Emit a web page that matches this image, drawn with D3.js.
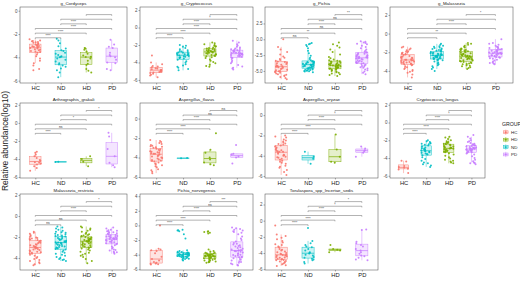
<!DOCTYPE html>
<html>
<head>
<meta charset="utf-8">
<script src="https://cdn.jsdelivr.net/npm/d3@7"></script>
<style>
  body { margin: 0; background: #fff; }
  svg { display: block; font-family: "Liberation Sans", Arial, sans-serif; }
</style>
</head>
<body>
<svg id="chart" width="520" height="281"></svg>
<script>
// ---- data ----
const groups = ["HC", "ND", "HD", "PD"];
const legendGroups = ["HC", "HD", "ND", "PD"];
const groupColors = {HC: "#F8766D", HD: "#7CAE00", ND: "#00BFC4", PD: "#C77CFF"};

const taxa = ["g_Cordyceps", "g_Cryptococcus", "g_Pichia", "g_Malassezia",
  "Arthrographis_grakali", "Aspergillus_flavus", "Aspergillus_oryzae", "Cryptococcus_longus",
  "Malassezia_restricta", "Pichia_norvegensis", "Torulaspora_spp_Incertae_sedis"];

const yTicks = [[0, -2, -4, -6], [2, 0, -2, -4, -6], [2.5, 0, -2.5, -5], [2, 0, -2, -4],
  [2, 0, -2, -4, -6], [0, -2, -4, -6], [0, -2, -4, -6], [2, 0, -2, -4, -6],
  [2, 0, -2, -4], [4, 2, 0, -2, -4, -6], [2, 0, -2, -4, -6]];
const yDomains = [[-6.2, 0.32], [-6.35, 2.35], [-6.9, 5.1], [-5.3, 2.85],
  [-6.1, 2.2], [-6.1, 1.6], [-6.2, 1.2], [-6.25, 2.2],
  [-5.15, 2.1], [-6.1, 4.3], [-6.1, 3.3]];

const comparisons = [["HC", "ND"], ["HC", "HD"], ["HC", "PD"], ["ND", "HD"], ["ND", "PD"], ["HD", "PD"]];
const sigLabels = [
  ["****", "****", "****", "****", "", ""],
  ["****", "****", "****", "****", "*", ""],
  ["ns", "**", "ns", "****", "ns", "**"],
  ["", "**", "", "****", "", "*"],
  ["****", "ns", "", "*", "", "*"],
  ["****", "****", "", "****", "ns", "ns"],
  ["****", "****", "", "****", "*", ""],
  ["****", "****", "", "****", "*", ""],
  ["ns", "ns", "", "****", "", "*"],
  ["****", "****", "", "****", "ns", "***"],
  ["****", "****", "", "****", "*", "*"]
];

// values (log10 relative abundance) per taxon and group
const cordycepsHC = [-2.45,-2.55,-2.6,-2.62,-2.68,-2.7,-2.75,-2.8,-2.85,-2.9,-2.95,-3.0,-3.02,-3.05,-3.1,-3.12,-3.15,-3.2,-3.25,-3.3,-3.35,-3.4,-3.45,-3.5,-3.55,-3.6,-3.75,-3.9,-4.1,-4.3,-4.5,-4.7,-5.0,-5.1];
const cordycepsND = [-2.4,-2.55,-2.8,-3.05,-3.25,-3.38,-3.45,-3.6,-3.7,-3.8,-3.9,-3.95,-4.0,-4.1,-4.2,-4.35,-4.5,-4.62,-4.7,-4.8,-4.95,-5.1,-5.3,-5.7];
const cordycepsHD = [-3.2,-3.25,-3.35,-3.5,-3.7,-3.85,-3.95,-3.98,-4.1,-4.3,-4.55,-4.65,-5.0,-5.15,-5.3];
const cordycepsPD = [-2.5,-2.9,-3.1,-3.2,-3.6,-3.8,-3.9,-4.0,-4.2,-4.45,-4.5,-5.0,-5.1];

const cryptoHC = [-3.2,-4.0,-4.2,-4.4,-4.45,-4.55,-4.65,-4.7,-4.78,-4.85,-4.88,-4.92,-5.0,-5.05,-5.1,-5.15,-5.2,-5.3,-5.4,-5.5,-5.7];
const cryptoND = [-2.0,-2.1,-2.2,-2.35,-2.5,-2.6,-2.7,-2.75,-2.8,-2.85,-2.9,-2.95,-3.0,-3.05,-3.1,-3.12,-3.15,-3.2,-3.25,-3.3,-3.35,-3.4,-3.45,-3.5,-3.55,-3.7,-3.85,-4.0,-4.2,-4.35,-4.5,-4.6,-4.75,-4.9];
const cryptoHD = [-1.7,-1.8,-1.9,-2.0,-2.1,-2.15,-2.2,-2.3,-2.35,-2.4,-2.45,-2.5,-2.55,-2.6,-2.62,-2.65,-2.7,-2.72,-2.75,-2.78,-2.8,-2.85,-2.9,-2.95,-3.0,-3.05,-3.1,-3.15,-3.2,-3.25,-3.3,-3.4,-3.5,-3.65,-3.8,-3.95,-4.1,-4.25,-4.4,-4.5];
const cryptoPD = [-1.5,-1.7,-1.9,-2.05,-2.2,-2.3,-2.4,-2.45,-2.5,-2.55,-2.6,-2.65,-2.7,-2.75,-2.8,-2.85,-2.9,-2.92,-2.95,-2.98,-3.0,-3.05,-3.1,-3.12,-3.15,-3.2,-3.25,-3.3,-3.35,-3.4,-3.5,-3.6,-3.8,-3.95,-4.1,-4.3,-4.45,-4.6,-4.7,-4.8];

const pichiaHC = [0.0,-1.2,-1.6,-2.0,-2.4,-2.7,-2.9,-3.1,-3.25,-3.4,-3.5,-3.6,-3.7,-3.8,-3.9,-4.0,-4.1,-4.2,-4.25,-4.3,-4.35,-4.4,-4.5,-4.6,-4.7,-4.8,-4.9,-5.0,-5.05,-5.1,-5.2,-5.3,-5.4,-5.5,-5.6,-5.7,-5.8,-5.95,-6.1,-6.3];
const pichiaND = [-0.6,-0.7,-0.8,-0.9,-1.1,-1.4,-1.8,-2.2,-2.6,-2.9,-3.1,-3.3,-3.45,-3.5,-3.55,-3.6,-3.65,-3.7,-3.75,-3.8,-3.85,-3.9,-3.95,-4.0,-4.0,-4.05,-4.1,-4.15,-4.2,-4.25,-4.3,-4.35,-4.4,-4.45,-4.5,-4.55,-4.6,-4.65,-4.7,-4.75,-4.8,-4.85,-4.9,-4.95,-5.0,-5.05,-5.1,-5.2];
const pichiaHD = [-0.5,-0.8,-1.0,-1.3,-1.6,-2.0,-2.4,-2.8,-3.0,-3.2,-3.3,-3.4,-3.45,-3.5,-3.6,-3.7,-3.75,-3.8,-3.85,-3.9,-3.95,-4.0,-4.05,-4.1,-4.1,-4.15,-4.2,-4.25,-4.3,-4.35,-4.4,-4.45,-4.5,-4.55,-4.6,-4.65,-4.7,-4.75,-4.8,-4.9,-5.0,-5.1,-5.2,-5.3,-5.4,-5.5,-5.65,-5.8];
const pichiaPD = [-0.3,-0.4,-0.5,-0.6,-0.7,-0.8,-1.0,-1.2,-1.4,-1.6,-1.8,-1.95,-2.05,-2.1,-2.2,-2.3,-2.4,-2.45,-2.5,-2.6,-2.65,-2.7,-2.75,-2.8,-2.85,-2.9,-2.95,-3.0,-3.05,-3.1,-3.2,-3.3,-3.4,-3.5,-3.55,-3.6,-3.7,-3.75,-3.8,-3.9,-4.0,-4.1,-4.2,-4.3,-4.4,-4.5,-4.6,-4.75,-4.9,-5.1,-5.3,-5.5];

const malassHC = [-1.4,-1.5,-1.6,-1.7,-1.8,-1.9,-1.95,-2.0,-2.05,-2.1,-2.15,-2.2,-2.25,-2.3,-2.4,-2.45,-2.5,-2.55,-2.6,-2.65,-2.7,-2.75,-2.8,-2.82,-2.85,-2.9,-2.95,-3.0,-3.02,-3.05,-3.1,-3.12,-3.15,-3.2,-3.25,-3.3,-3.35,-3.4,-3.5,-3.6,-3.7,-3.8,-3.9,-4.0,-4.1,-4.2,-4.4,-4.7];
const malassND = [-1.1,-1.2,-1.3,-1.35,-1.4,-1.5,-1.55,-1.6,-1.65,-1.7,-1.75,-1.8,-1.85,-1.9,-1.95,-2.0,-2.05,-2.1,-2.12,-2.15,-2.2,-2.22,-2.25,-2.28,-2.3,-2.32,-2.35,-2.38,-2.4,-2.42,-2.45,-2.5,-2.52,-2.55,-2.6,-2.62,-2.65,-2.7,-2.72,-2.75,-2.8,-2.85,-2.9,-3.0,-3.1,-3.2,-3.3,-3.4,-3.5,-3.65,-3.8,-4.0];
const malassHD = [-1.0,-1.1,-1.2,-1.3,-1.4,-1.5,-1.6,-1.65,-1.7,-1.75,-1.8,-1.85,-1.9,-1.95,-2.0,-2.05,-2.1,-2.15,-2.2,-2.25,-2.3,-2.32,-2.35,-2.38,-2.4,-2.42,-2.45,-2.5,-2.55,-2.6,-2.62,-2.65,-2.7,-2.72,-2.75,-2.8,-2.85,-2.9,-2.95,-3.0,-3.05,-3.1,-3.15,-3.2,-3.25,-3.3,-3.4,-3.45,-3.5,-3.6,-3.7,-3.8];
const malassPD = [-0.6,-1.0,-1.1,-1.2,-1.3,-1.4,-1.45,-1.5,-1.55,-1.6,-1.65,-1.7,-1.75,-1.8,-1.85,-1.9,-1.95,-2.0,-2.02,-2.05,-2.08,-2.1,-2.12,-2.15,-2.2,-2.25,-2.3,-2.32,-2.35,-2.4,-2.42,-2.45,-2.5,-2.55,-2.6,-2.65,-2.7,-2.8,-2.9,-3.0,-3.1,-3.15,-3.2,-3.3];

const arthroHC = [-3.2,-3.3,-3.5,-3.7,-3.9,-4.1,-4.2,-4.35,-4.4,-4.5,-4.6,-4.8,-5.0,-5.3];
const arthroND = [-4.3,-4.32];
const arthroHD = [-3.7,-4.0,-4.3,-4.8];
const arthroPD = [-1.1,-1.5,-2.9,-3.7,-4.4,-4.7,-4.9];

const flavusHC = [-2.2,-2.3,-2.4,-2.5,-2.6,-2.7,-2.8,-2.85,-2.9,-2.95,-3.0,-3.1,-3.15,-3.2,-3.3,-3.35,-3.4,-3.45,-3.5,-3.55,-3.6,-3.62,-3.7,-3.8,-3.85,-3.9,-4.0,-4.05,-4.1,-4.2,-4.25,-4.3,-4.35,-4.4,-4.5,-4.6,-4.7,-4.8,-4.9,-5.0,-5.2,-5.3,-5.45,-5.6];
const flavusND = [-4.05,-4.07];
const flavusHD = [-1.5,-3.2,-3.5,-4.0,-4.2,-4.5,-4.7,-4.8];
const flavusPD = [-2.7,-3.6,-3.7,-3.9,-4.0,-4.6];

const oryzaeHC = [-2.0,-2.1,-2.2,-2.4,-2.5,-2.6,-2.7,-2.8,-2.85,-2.9,-3.0,-3.1,-3.2,-3.3,-3.4,-3.45,-3.5,-3.55,-3.6,-3.62,-3.7,-3.8,-3.9,-3.95,-4.0,-4.1,-4.15,-4.2,-4.3,-4.4,-4.5,-4.6,-4.7,-4.8,-5.0,-5.1,-5.2,-5.4,-5.6,-5.9];
const oryzaeND = [-3.6,-4.1,-4.3,-4.8];
const oryzaeHD = [-1.9,-3.4,-4.1,-4.6,-4.7];
const oryzaePD = [-3.1,-3.3,-3.45,-3.55,-3.7,-4.1];

const longusHC = [-4.3,-4.4,-4.9,-5.0,-5.1,-5.2,-5.3,-5.7];
const longusND = [-2.0,-2.1,-2.2,-2.3,-2.35,-2.4,-2.45,-2.5,-2.6,-2.7,-2.8,-2.9,-2.95,-3.0,-3.05,-3.1,-3.15,-3.2,-3.25,-3.3,-3.35,-3.4,-3.5,-3.55,-3.6,-3.7,-3.9,-4.1,-4.3,-4.5,-4.6,-4.7,-4.85,-5.0];
const longusHD = [-1.6,-1.7,-1.85,-2.0,-2.1,-2.2,-2.25,-2.3,-2.35,-2.4,-2.45,-2.5,-2.6,-2.65,-2.7,-2.75,-2.8,-2.85,-2.88,-2.9,-2.92,-2.95,-3.0,-3.05,-3.1,-3.15,-3.2,-3.25,-3.3,-3.35,-3.45,-3.6,-3.75,-3.9,-4.05,-4.2,-4.3,-4.4,-4.5,-4.6];
const longusPD = [-1.4,-1.6,-1.8,-2.0,-2.1,-2.2,-2.3,-2.4,-2.45,-2.5,-2.55,-2.6,-2.65,-2.7,-2.75,-2.8,-2.85,-2.88,-2.9,-2.92,-2.95,-2.98,-3.0,-3.02,-3.05,-3.08,-3.1,-3.12,-3.15,-3.2,-3.25,-3.3,-3.35,-3.4,-3.5,-3.6,-3.8,-4.0,-4.2,-4.35,-4.5,-4.55,-4.6,-4.7];

const restrictaHC = [-1.5,-1.6,-1.7,-1.8,-1.9,-2.0,-2.05,-2.1,-2.15,-2.2,-2.25,-2.3,-2.35,-2.4,-2.5,-2.55,-2.6,-2.7,-2.75,-2.8,-2.85,-2.9,-2.95,-3.0,-3.0,-3.05,-3.1,-3.15,-3.2,-3.25,-3.3,-3.35,-3.4,-3.45,-3.5,-3.55,-3.6,-3.7,-3.8,-3.9,-4.0,-4.1,-4.2,-4.3,-4.4,-4.5,-4.6,-4.7];
const restrictaND = [-1.0,-1.1,-1.2,-1.3,-1.4,-1.5,-1.55,-1.6,-1.7,-1.75,-1.8,-1.85,-1.9,-1.95,-2.0,-2.1,-2.15,-2.2,-2.25,-2.3,-2.35,-2.4,-2.45,-2.48,-2.5,-2.52,-2.55,-2.6,-2.65,-2.7,-2.75,-2.8,-2.85,-2.9,-2.95,-3.0,-3.05,-3.1,-3.15,-3.2,-3.3,-3.4,-3.5,-3.6,-3.7,-3.8,-3.9,-4.0,-4.1,-4.15,-4.2,-4.3];
const restrictaHD = [-1.0,-1.1,-1.2,-1.3,-1.4,-1.5,-1.6,-1.7,-1.75,-1.8,-1.85,-1.9,-1.95,-2.0,-2.05,-2.1,-2.15,-2.2,-2.22,-2.25,-2.28,-2.3,-2.32,-2.35,-2.38,-2.4,-2.42,-2.45,-2.5,-2.55,-2.6,-2.65,-2.7,-2.75,-2.8,-2.85,-2.9,-2.95,-3.0,-3.05,-3.1,-3.2,-3.3,-3.4,-3.5,-3.6,-3.7,-3.8,-3.9,-4.1,-4.3,-4.5];
const restrictaPD = [-1.1,-1.2,-1.3,-1.35,-1.4,-1.45,-1.5,-1.55,-1.6,-1.65,-1.7,-1.75,-1.8,-1.85,-1.9,-1.92,-1.95,-2.0,-2.02,-2.05,-2.1,-2.12,-2.15,-2.18,-2.2,-2.22,-2.25,-2.3,-2.32,-2.35,-2.4,-2.45,-2.5,-2.55,-2.6,-2.65,-2.7,-2.8,-2.9,-3.0,-3.1,-3.2,-3.25,-3.3,-3.4,-3.45,-3.5,-3.6];

const norvegHC = [0.0,-3.2,-3.3,-3.4,-3.5,-3.8,-4.3,-4.6,-4.8,-5.0,-5.1,-5.2,-5.25,-5.3,-5.35];
const norvegND = [-0.6,-0.65,-0.7,-0.8,-1.2,-1.8,-3.4,-3.5,-3.6,-3.65,-3.7,-3.72,-3.75,-3.8,-3.82,-3.85,-3.88,-3.9,-3.92,-3.95,-4.0,-4.02,-4.05,-4.08,-4.1,-4.12,-4.15,-4.2,-4.22,-4.25,-4.3,-4.32,-4.35,-4.4,-4.45,-4.5,-4.55,-4.6,-4.7,-4.8];
const norvegHD = [-0.8,-0.85,-0.9,-1.0,-1.1,-3.3,-3.5,-3.6,-3.7,-3.75,-3.8,-3.85,-3.9,-3.95,-4.0,-4.02,-4.05,-4.08,-4.1,-4.12,-4.15,-4.18,-4.2,-4.22,-4.25,-4.28,-4.3,-4.32,-4.35,-4.4,-4.45,-4.5,-4.55,-4.6,-4.65,-4.7,-4.75,-4.8,-4.85,-4.9,-4.95,-5.0,-5.05,-5.1];
const norvegPD = [-0.3,-0.4,-0.5,-0.6,-0.7,-0.8,-0.9,-1.0,-1.2,-1.5,-1.8,-2.0,-2.2,-2.4,-2.5,-2.6,-2.7,-2.8,-2.9,-3.0,-3.1,-3.2,-3.3,-3.35,-3.4,-3.45,-3.5,-3.55,-3.6,-3.7,-3.8,-3.9,-4.0,-4.05,-4.1,-4.2,-4.3,-4.35,-4.4,-4.5,-4.6,-4.7,-4.8,-4.9,-5.0,-5.1,-5.2,-5.3,-5.4,-5.5];

const torulaHC = [-0.6,-1.7,-1.9,-2.1,-2.3,-2.5,-2.7,-2.9,-3.0,-3.2,-3.3,-3.5,-3.6,-3.7,-3.8,-3.9,-4.0,-4.1,-4.15,-4.2,-4.25,-4.3,-4.35,-4.4,-4.5,-4.55,-4.6,-4.7,-4.75,-4.8,-4.85,-4.9,-5.0,-5.05,-5.1,-5.2,-5.3,-5.4,-5.5,-5.6];
const torulaND = [-0.9,-2.5,-2.8,-3.0,-3.2,-3.3,-3.5,-3.7,-3.9,-4.0,-4.05,-4.2,-4.3,-4.5,-4.6,-4.7,-4.8,-4.9,-5.1,-5.3];
const torulaHD = [-3.0,-3.5,-3.6,-3.7,-3.9];
const torulaPD = [-1.1,-1.15,-2.6,-2.8,-3.0,-3.2,-3.5,-3.7,-3.9,-4.1,-4.3,-4.4,-4.6,-4.8,-4.9];

const values = [
  [cordycepsHC, cordycepsND, cordycepsHD, cordycepsPD],
  [cryptoHC, cryptoND, cryptoHD, cryptoPD],
  [pichiaHC, pichiaND, pichiaHD, pichiaPD],
  [malassHC, malassND, malassHD, malassPD],
  [arthroHC, arthroND, arthroHD, arthroPD],
  [flavusHC, flavusND, flavusHD, flavusPD],
  [oryzaeHC, oryzaeND, oryzaeHD, oryzaePD],
  [longusHC, longusND, longusHD, longusPD],
  [restrictaHC, restrictaND, restrictaHD, restrictaPD],
  [norvegHC, norvegND, norvegHD, norvegPD],
  [torulaHC, torulaND, torulaHD, torulaPD]
];

// ---- layout ----
const svg = d3.select("#chart");
const rowTops = [7, 103, 194], rowHeights = [76, 75, 76];
const colLeft = [20, 140, 265, 390];
const colRight = [[127, 253, 378, 513], [127, 253, 378, 485], [127, 253, 378, 485]];

// deterministic jitter offsets
let seed = 7;
const jit = () => { seed = (seed * 16807) % 2147483647; return (seed - 1) / 2147483646 - 0.5; };

const boxStats = arr => {
  const s = arr.slice().sort(d3.ascending);
  const q1 = d3.quantile(s, 0.25), med = d3.quantile(s, 0.5), q3 = d3.quantile(s, 0.75);
  const iqr = q3 - q1;
  const lo = d3.min(s.filter(v => v >= q1 - 1.5 * iqr));
  const hi = d3.max(s.filter(v => v <= q3 + 1.5 * iqr));
  return {q1, med, q3, lo, hi};
};

taxa.forEach((name, i) => {
  const row = i < 4 ? 0 : (i < 8 ? 1 : 2), col = i < 4 ? i : (i - 4) % 4;
  const x0 = colLeft[col], x1 = colRight[row][col];
  const y0 = rowTops[row], y1 = y0 + rowHeights[row];

  const x = d3.scalePoint().domain(groups).range([x0, x1]).padding(0.6);
  const y = d3.scaleLinear().domain(yDomains[i]).range([y1, y0]);
  const step = x.step();
  const bw = step * 0.45;

  const g = svg.append("g");

  g.append("rect")
    .attr("x", x0).attr("y", y0).attr("width", x1 - x0).attr("height", y1 - y0)
    .attr("fill", "#fff").attr("stroke", "#444").attr("stroke-width", 0.5);

  g.append("text")
    .attr("x", (x0 + x1) / 2).attr("y", y0 - 2)
    .attr("text-anchor", "middle").attr("font-size", 4.4).attr("fill", "#1a1a1a")
    .text(name);

  const fmt = i === 2 ? (d => d.toFixed(1)) : (d => String(d));
  const ya = g.append("g").attr("transform", `translate(${x0},0)`)
    .call(d3.axisLeft(y).tickValues(yTicks[i]).tickSize(1.5).tickPadding(1).tickFormat(fmt));
  ya.select(".domain").remove();
  ya.selectAll("line").attr("stroke", "#333").attr("stroke-width", 0.4);
  ya.selectAll("text").attr("font-size", 4.5).attr("fill", "#4d4d4d").attr("font-family", null);

  const xa = g.append("g").attr("transform", `translate(0,${y1})`)
    .call(d3.axisBottom(x).tickSize(1.5).tickPadding(1.5));
  xa.select(".domain").remove();
  xa.selectAll("line").attr("stroke", "#333").attr("stroke-width", 0.4);
  xa.selectAll("text").attr("font-size", 5.8).attr("fill", "#1a1a1a").attr("font-family", null);

  // boxplots
  groups.forEach((grp, k) => {
    const st = boxStats(values[i][k]);
    const cx = x(grp), c = groupColors[grp];
    const bg = g.append("g").attr("stroke", c).attr("stroke-width", 0.45);
    bg.append("line").attr("x1", cx).attr("x2", cx).attr("y1", y(st.q3)).attr("y2", y(st.hi));
    bg.append("line").attr("x1", cx).attr("x2", cx).attr("y1", y(st.q1)).attr("y2", y(st.lo));
    bg.append("rect")
      .attr("x", cx - bw / 2).attr("width", bw)
      .attr("y", y(st.q3)).attr("height", Math.max(0.3, y(st.q1) - y(st.q3)))
      .attr("fill", c).attr("fill-opacity", 0.2);
    bg.append("line").attr("x1", cx - bw / 2).attr("x2", cx + bw / 2)
      .attr("y1", y(st.med)).attr("y2", y(st.med)).attr("stroke-width", 0.7);
  });

  // jittered points
  groups.forEach((grp, k) => {
    g.append("g").selectAll("circle")
      .data(values[i][k])
      .join("circle")
      .attr("cx", () => x(grp) + jit() * step * 0.45)
      .attr("cy", d => y(d))
      .attr("r", 1.0)
      .attr("fill", groupColors[grp])
      .attr("fill-opacity", 0.9);
  });

  // significance brackets
  const h = y1 - y0;
  comparisons.forEach((pair, j) => {
    const by = y0 + h * (0.405 - j * 0.061);
    const xa1 = x(pair[0]), xa2 = x(pair[1]);
    g.append("path")
      .attr("d", `M${xa1},${by + 1.2}V${by}H${xa2}V${by + 1.2}`)
      .attr("fill", "none").attr("stroke", "#555").attr("stroke-width", 0.45);
    g.append("text")
      .attr("x", (xa1 + xa2) / 2).attr("y", by - 0.5)
      .attr("text-anchor", "middle").attr("font-size", 3.4).attr("fill", "#333")
      .text(sigLabels[i][j]);
  });
});

// y axis title
svg.append("text")
  .attr("transform", "translate(8,141) rotate(-90)")
  .attr("text-anchor", "middle").attr("font-size", 8.4).attr("fill", "#1a1a1a")
  .text("Relative abundance(log10)");

// legend
const lg = svg.append("g").attr("transform", "translate(502,0)");
lg.append("text").attr("x", 0).attr("y", 126).attr("font-size", 5.2).attr("fill", "#1a1a1a").text("GROUP");
legendGroups.forEach((grp, k) => {
  const ky = 129 + k * 7.4, c = groupColors[grp];
  const kg = lg.append("g").attr("stroke", c).attr("stroke-width", 0.45);
  kg.append("rect").attr("x", 0.5).attr("y", ky).attr("width", 6.5).attr("height", 6.5)
    .attr("fill", "#fff").attr("stroke", "none");
  kg.append("line").attr("x1", 3.75).attr("x2", 3.75).attr("y1", ky + 0.6).attr("y2", ky + 5.9);
  kg.append("rect").attr("x", 1.4).attr("y", ky + 1.8).attr("width", 4.7).attr("height", 2.9)
    .attr("fill", c).attr("fill-opacity", 0.2);
  kg.append("line").attr("x1", 1.4).attr("x2", 6.1).attr("y1", ky + 3.25).attr("y2", ky + 3.25);
  kg.append("circle").attr("cx", 3.75).attr("cy", ky + 3.25).attr("r", 0.9).attr("fill", c).attr("stroke", "none");
  lg.append("text").attr("x", 9).attr("y", ky + 4.8).attr("font-size", 4.4).attr("fill", "#1a1a1a").text(grp);
});
</script>
</body>
</html>
